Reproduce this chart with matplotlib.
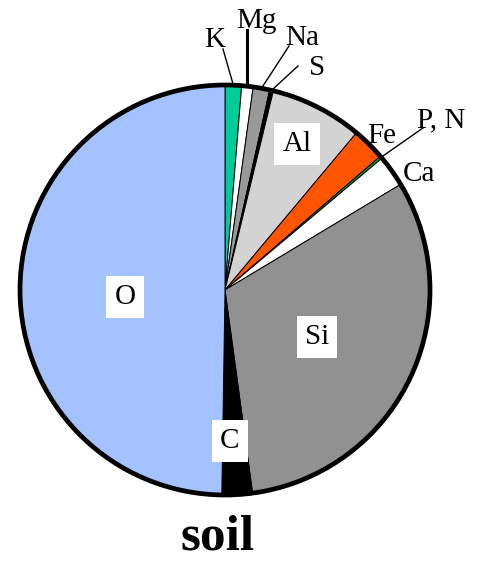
import numpy as np
import matplotlib.pyplot as plt
from matplotlib.patches import Circle

# clockwise from 12 o'clock
elements = ['K', 'Mg', 'Na', 'S', 'Al', 'Fe', 'P, N', 'Ca', 'Si', 'C', 'O']
percent = [1.3, 0.9, 1.3, 0.3, 7.3, 2.6, 0.2, 2.5, 31.5, 2.4, 49.8]
colors = ['#00cc99', '#ffffff', '#999999', '#000000', '#d3d3d3', '#ff5500',
          '#00aa00', '#ffffff', '#919191', '#000000', '#a4c2ff']

W, H = 478, 562
plt.rcParams['font.family'] = ['Liberation Serif', 'DejaVu Serif']

fig = plt.figure(figsize=(W / 100, H / 100), dpi=100)
ax = fig.add_axes([0, 0, 1, 1])

def P(x, y):
    # pixel coords (from top-left) -> data coords
    return x, H - y

cx, cy = P(225, 290)
R = 205
wedges, _ = ax.pie(percent, colors=colors, startangle=90, counterclock=False,
                   center=(cx, cy), radius=R,
                   wedgeprops=dict(edgecolor='black', linewidth=0.7))
ax.add_patch(Circle((cx, cy), R, fill=False, edgecolor='black', linewidth=3.4, zorder=5))
ax.set_xlim(0, W)
ax.set_ylim(0, H)
ax.set_aspect('equal')
ax.axis('off')

# labels inside white boxes
inside = {'Al': (297, 144), 'Si': (317, 337), 'C': (230, 441), 'O': (125, 297)}
for name, (x, y) in inside.items():
    ax.text(*P(x, y), name, fontsize=21, ha='center', va='center', zorder=6,
            bbox=dict(boxstyle='square,pad=0.28', facecolor='white', edgecolor='none'))

# outer labels (text baseline position), with optional leader line start
outside = {'K': ((215, 47), (223, 49)),
           'Mg': ((256, 28), (252, 30)),
           'Na': ((302, 45), (289, 46)),
           'S': ((317, 75), (298, 66)),
           'Fe': ((382, 143), None),
           'P, N': ((441, 127), (423, 128)),
           'Ca': ((419, 181), None)}
for name, ((x, y), start) in outside.items():
    ax.text(*P(x, y), name, fontsize=21, ha='center', va='baseline', zorder=6)
    if start is not None:
        w = wedges[elements.index(name)]
        mid = np.deg2rad((w.theta1 + w.theta2) / 2)
        ex, ey = cx + R * np.cos(mid), cy + R * np.sin(mid)
        sx, sy = P(*start)
        if name == 'Mg':
            sx = ex
        lw = 2.2 if name == 'Mg' else 1.0
        ax.plot([sx, ex], [sy, ey], color='black', linewidth=lw, zorder=4)

ax.text(*P(218, 561), 'soil', fontsize=37, fontweight='bold', ha='center', va='bottom')

fig.savefig('out.png', dpi=100)
